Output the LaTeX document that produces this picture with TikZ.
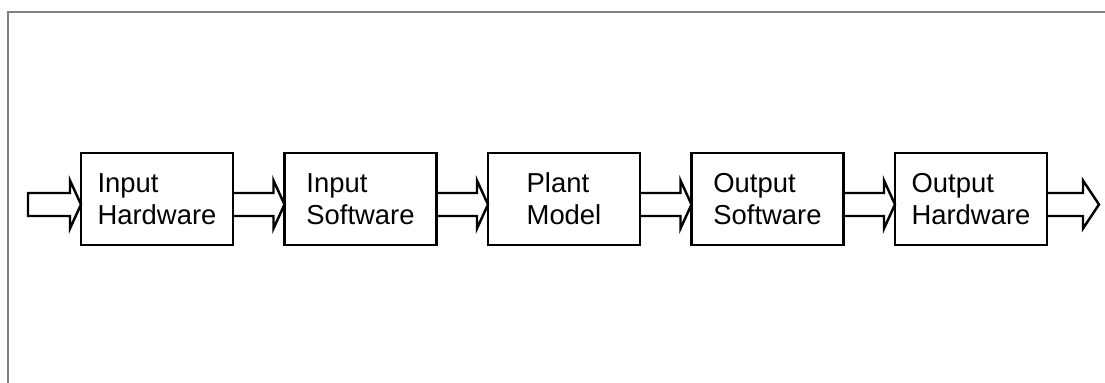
\documentclass[tikz,border=0pt]{standalone}
\usepackage{fontspec}
\setmainfont{Liberation Sans}
\usepackage{tikz}
\usetikzlibrary{calc,positioning}
\def\hollowarrow[#1](#2)(#3)#4{\draw[#1] ($(#2)+(0,0.12)$) -- ($(#3)+(-#4,0.12)$) -- ($(#3)+(-#4,0.37)$) -- ($(#3)+(0,-0.11)$) -- ($(#3)+(-#4,-0.59)$) -- ($(#3)+(-#4,-0.34)$) -- ($(#2)+(0,-0.34)$)}

\begin{document}
\begin{tikzpicture}[
		block/.style={draw, line width=1.6pt, outer sep=0pt, minimum width=3.04cm, minimum height=1.84cm, align=left, inner sep=0pt, font=\fontsize{15.6}{18.4}\selectfont},
		fat/.style={line width=1.4pt, line join=miter}
	]
		%%%%% START %%%%%
		
		\useasboundingbox (0, 0) rectangle (22.1, -7.66);
		\draw[line width=0.85pt, color=black!50] (0.16, -7.66) -- (0.16, -0.24) -- (22.1, -0.24);
		
		\node[block] (inhw) at (3.14, -3.98) {Input\\Hardware};
		\node[block, right=1.03cm of inhw] (insw) {Input\\Software};
		\node[block, right=1.03cm of insw] (plant) {Plant\\Model};
		\node[block, right=1.03cm of plant] (outsw) {Output\\Software};
		\node[block, right=1.03cm of outsw] (outhw) {Output\\Hardware};
		
		\coordinate (src) at (0.56, -3.98);
		\coordinate (sink) at (21.98, -3.98);
		
		\hollowarrow[fat](src)(inhw.west){0.22} -- cycle;
		\hollowarrow[fat](inhw.east)(insw.west){0.22};
		\hollowarrow[fat](insw.east)(plant.west){0.22};
		\hollowarrow[fat](plant.east)(outsw.west){0.22};
		\hollowarrow[fat](outsw.east)(outhw.west){0.22};
		\hollowarrow[fat](outhw.east)(sink){0.32};
		
		%%%%% END %%%%%
	\end{tikzpicture}
\end{document}
